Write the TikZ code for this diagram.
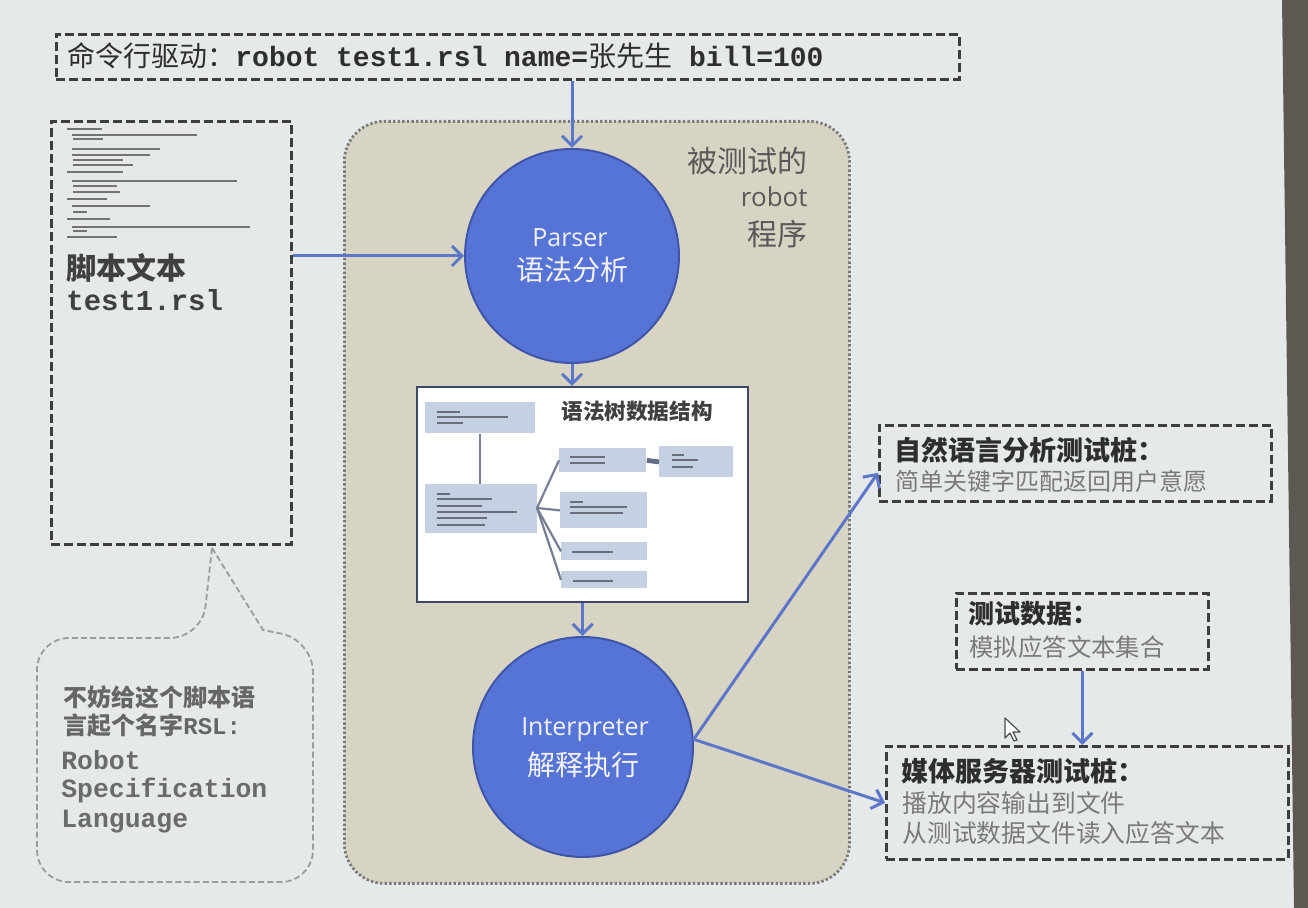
\documentclass[tikz,border=0pt]{standalone}
\usepackage{fontspec}
\usetikzlibrary{arrows.meta,calc}
\newfontfamily\cjk{Noto Sans CJK SC}
\newfontfamily\mono{Liberation Mono}
\newfontfamily\uisans{Open Sans}
\definecolor{bg}{HTML}{E5E9EA}
\definecolor{edgedark}{HTML}{5E5853}
\definecolor{boxline}{HTML}{3E3E40}
\definecolor{tan}{HTML}{D8D4C4}
\definecolor{dotgray}{HTML}{7A7A7A}
\definecolor{circblue}{HTML}{5673D6}
\definecolor{circedge}{HTML}{3F55A8}
\definecolor{arrowblue}{HTML}{5C76C9}
\definecolor{treeline}{HTML}{3C4868}
\definecolor{tfill}{HTML}{C6D0E3}
\definecolor{fake}{HTML}{6A6E7C}
\definecolor{headtxt}{HTML}{2E2E2E}
\definecolor{subtxt}{HTML}{7A7A7A}
\definecolor{calloutline}{HTML}{9C9C9C}
\begin{document}
\begin{tikzpicture}[x=0.5pt,y=-0.5pt,
  dbox/.style={draw=boxline, line width=1.4pt, dash pattern=on 4.5pt off 2pt,
               inner sep=0pt, anchor=north west},
  flow/.style={draw=arrowblue, line width=1.5pt,
               -{Straight Barb[length=5pt,width=10pt,line width=1.5pt]}},
  txt/.style={inner sep=0pt, anchor=west},
  tbox/.style={fill=tfill, inner sep=0pt, anchor=north west},
  tlink/.style={draw=treeline!70, line width=1.1pt},
  faketext/.style={draw=fake, line width=1.1pt},
  scripttext/.style={draw=black!55, line width=1pt},
  bubble/.style={circle, fill=circblue, draw=circedge, line width=1pt, inner sep=0pt},
  bubbletext/.style={inner sep=0pt, text=white!95!blue},
  sutlabel/.style={inner sep=0pt, anchor=east, text=black!65},
]
% page and projector edge
\fill[bg] (0,0) rectangle (1308,908);
\useasboundingbox (0,0) rectangle (1308,908);
\fill[edgedark] (1282,0) -- (1308,0) -- (1308,908) -- (1294,908) -- cycle;

% command line box
\node[dbox, minimum width=451.5pt, minimum height=22.5pt] (cmd) at (55,33) {};
\node[txt, text=headtxt] (cmdtext) at (67,56)
  {\fontsize{14}{16}\selectfont{\cjk 命令行驱动：}{\mono\bfseries robot test1.rsl name=}{\cjk 张先生}{\mono\bfseries{} bill=100}};

% script file box
\node[dbox, minimum width=120pt, minimum height=211.5pt] (script) at (50,120) {};
\foreach \xa/\xb/\yy in {67/102/129, 72/197/135, 73/103/139, 72/160/149, 72/150/155,
    73/123/160, 73/133/165, 67/123/172, 72/237/181, 73/117/186, 73/120/192,
    67/107/199, 72/150/206, 73/87/212, 67/110/219, 72/250/227, 73/87/231, 67/117/237}
  \draw[scripttext] (\xa,\yy) -- (\xb,\yy);
\node[txt, text=black!75] (scriptname) at (66,268) {\fontsize{15}{17}\selectfont\cjk\bfseries 脚本文本};
\node[txt, text=black!75] (scriptfile) at (66,300) {\fontsize{14.5}{17}\selectfont\mono\bfseries test1.rsl};

% system under test container
\node[draw=dotgray, fill=tan, rounded corners=20pt, line width=1.4pt,
      dash pattern=on 1.2pt off 1.1pt, minimum width=252.5pt, minimum height=381pt,
      inner sep=0pt, anchor=north west] (sut) at (343,120) {};
\node[sutlabel] (sutl1) at (808,161) {\fontsize{15}{17}\selectfont\cjk 被测试的};
\node[sutlabel] (sutl2) at (808,197) {\fontsize{13}{15}\selectfont\uisans robot};
\node[sutlabel] (sutl3) at (808,234) {\fontsize{15}{17}\selectfont\cjk 程序};

% parser
\node[bubble, minimum size=107pt] (parser) at (572,256) {};
\node[bubbletext] (parserl1) at (570,238) {\fontsize{12.5}{14}\selectfont\uisans Parser};
\node[bubbletext] (parserl2) at (572,270) {\fontsize{14}{16}\selectfont\cjk 语法分析};

% syntax tree
\node[draw=treeline, fill=white, line width=1.2pt, minimum width=165.5pt,
      minimum height=107.5pt, inner sep=0pt, anchor=north west] (tree) at (416,386) {};
\node[inner sep=0pt, text=black!75] (treetitle) at (637,411)
  {\fontsize{10.8}{12}\selectfont\cjk\bfseries 语法树数据结构};
\node[tbox, minimum width=55pt, minimum height=15.5pt] (t1) at (425,402) {};
\node[tbox, minimum width=56pt, minimum height=24.5pt] (t2) at (425,484) {};
\node[tbox, minimum width=43.5pt, minimum height=12pt] (t3) at (559,448) {};
\node[tbox, minimum width=37pt, minimum height=15.5pt] (t4) at (659,446) {};
\node[tbox, minimum width=43.5pt, minimum height=18pt] (t5) at (560,492) {};
\node[tbox, minimum width=43pt, minimum height=9pt] (t6) at (561,542) {};
\node[tbox, minimum width=43pt, minimum height=8.5pt] (t7) at (561,571) {};
\draw[tlink] (t1.south -| 480,0) -- (t2.north -| 480,0);
\coordinate (fan) at (537,508);
\draw[tlink] (fan) -- (t3.west);
\draw[tlink] (fan) -- (t5.west);
\draw[tlink] (fan) -- (t6.west);
\draw[tlink] (fan) -- (t7.west);
\draw[draw=treeline!80, line width=2.4pt] (t3.east) -- (t4.west);
\foreach \xa/\xb/\yy in {437/460/412, 437/508/417, 437/463/423,
    437/450/494, 437/492/499, 437/482/506, 437/517/512, 437/487/518, 437/485/525,
    570/605/457, 570/605/463,
    672/684/455, 672/698/460, 672/693/467,
    570/583/502, 570/627/507, 570/623/513,
    572/613/552, 573/613/581}
  \draw[faketext] (\xa,\yy) -- (\xb,\yy);

% interpreter
\node[bubble, minimum size=110pt] (interp) at (583,747) {};
\node[bubbletext] (interpl1) at (585,730) {\fontsize{12.5}{14}\selectfont\uisans Interpreter};
\node[bubbletext] (interpl2) at (583,765) {\fontsize{14}{16}\selectfont\cjk 解释执行};

% test stubs
\node[dbox, minimum width=196pt, minimum height=38pt] (nlp) at (878,424) {};
\node[txt, text=headtxt] (nlphead) at (894,450) {\fontsize{13.5}{15}\selectfont\cjk\bfseries 自然语言分析测试桩：};
\node[txt, text=subtxt] (nlpsub) at (895,481) {\fontsize{12}{14}\selectfont\cjk 简单关键字匹配返回用户意愿};

\node[dbox, minimum width=126pt, minimum height=38pt] (data) at (955,592) {};
\node[txt, text=headtxt] (datahead) at (968,614) {\fontsize{13}{15}\selectfont\cjk\bfseries 测试数据：};
\node[txt, text=subtxt] (datasub) at (969,647) {\fontsize{12.2}{14}\selectfont\cjk 模拟应答文本集合};

\node[dbox, minimum width=201pt, minimum height=56.5pt] (media) at (885,745) {};
\node[txt, text=headtxt] (mediahead) at (901,771) {\fontsize{13.5}{15}\selectfont\cjk\bfseries 媒体服务器测试桩：};
\node[txt, text=subtxt] (mediasub1) at (902,803) {\fontsize{12.4}{14}\selectfont\cjk 播放内容输出到文件};
\node[txt, text=subtxt] (mediasub2) at (902,833) {\fontsize{12.4}{14}\selectfont\cjk 从测试数据文件读入应答文本};

% call-out about the script language
\draw[draw=calloutline, line width=0.9pt, dash pattern=on 3pt off 1.6pt]
  (212,548) -- (263,630) [rounded corners=16pt] -- (313,640) -- (313,882)
  -- (37,882) -- (37,638) -- (202,638) [sharp corners] -- cycle;
\node[txt, text=black!60] (calloutcjk) at (63,697)
  {\fontsize{12}{14}\selectfont\cjk\bfseries 不妨给这个脚本语};
\node[txt, text=black!60] (calloutcjk2) at (63,725)
  {\fontsize{12}{14}\selectfont{\cjk\bfseries 言起个名字}{\mono\bfseries RSL:}};
\node[txt, text=black!58] (rsl1) at (61,760) {\fontsize{13.2}{15}\selectfont\mono\bfseries Robot};
\node[txt, text=black!58] (rsl2) at (61,790) {\fontsize{13.2}{15}\selectfont\mono\bfseries Specification};
\node[txt, text=black!58] (rsl3) at (61,822) {\fontsize{13.2}{15}\selectfont\mono\bfseries Language};

% flow arrows
\draw[flow] (parser.north |- cmd.south) -- (parser.north);
\draw[flow] (parser.west -| script.east) -- (parser.west);
\draw[flow] (parser.south) -- (parser.south |- tree.north);
\draw[flow] (tree.south) -- (tree.south |- interp.north);
\coordinate (nlpin) at ($(nlp.south west)+(0,-30)$);
\draw[flow] (interp.4) -- (nlpin);
\draw[flow] (interp.4) -- (media.west);
\draw[flow] (data.south) -- (data.south |- media.north);

% mouse pointer
\draw[fill=white, draw=black!70, line width=0.6pt, line join=round]
  (1005,718) -- (1005,738) -- (1010,733) -- (1014,741) -- (1017,740) -- (1013,732) -- (1020,732) -- cycle;
\end{tikzpicture}
\end{document}
